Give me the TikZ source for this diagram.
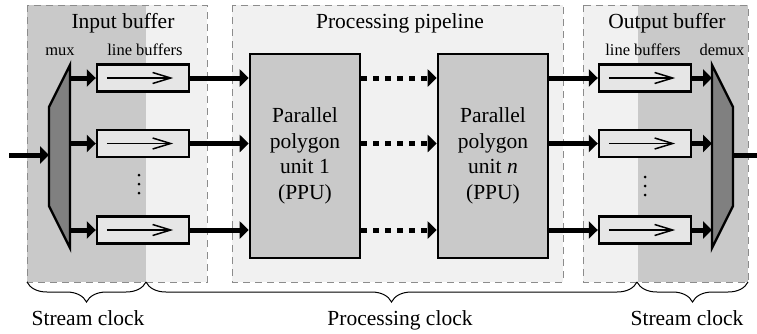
\documentclass[tikz,border=0pt]{standalone}
\usepackage{fontspec}
\setmainfont{Liberation Serif}
\newfontfamily\tnrfont{Liberation Serif}
\usetikzlibrary{arrows.meta,decorations.pathreplacing}
\definecolor{darkreg}{HTML}{C9C9C9}
\definecolor{lightreg}{HTML}{F1F1F1}
\definecolor{buffill}{HTML}{E6E6E6}
\definecolor{muxfill}{HTML}{808080}
\definecolor{dashgray}{HTML}{8C8C8C}
\tikzset{
  region/.style={draw=dashgray,line width=0.9pt,dash pattern=on 7pt off 5pt},
  bufbox/.style={draw=black,line width=2.4pt,fill=buffill,minimum width=92pt,minimum height=27pt,inner sep=0pt},
  ppubox/.style={draw=black,line width=2.6pt,fill=darkreg,minimum width=110pt,minimum height=204pt,inner sep=0pt,align=center,font=\tnrfont\fontsize{21.5}{25.5}\selectfont},
  fat/.style={line width=5pt,-{Triangle[length=9pt,width=17pt]}},
  fatdash/.style={fat,dash pattern=on 6pt off 6pt},
  inner/.style={line width=1.5pt,-{Straight Barb[length=18pt,width=11pt,line width=1.5pt]}},
  bigtxt/.style={font=\tnrfont\fontsize{21.5}{25.5}\selectfont,inner sep=0pt,anchor=base},
  smalltxt/.style={font=\tnrfont\fontsize{16.5}{19}\selectfont,inner sep=0pt,anchor=base},
  muxshape/.style={draw=black,line width=2.4pt,fill=muxfill,line join=miter},
  clockbrace/.style={decorate,decoration={brace,mirror,amplitude=20pt},line width=1pt},
}
\begin{document}
\begin{tikzpicture}[x=1pt,y=-1pt]
\useasboundingbox (0,0) rectangle (757,333);
% regions
\fill[darkreg] (27,5) rectangle (146,282);
\fill[lightreg] (146,5) rectangle (207,282);
\draw[region] (27,5) rectangle (207,282);
\fill[lightreg] (232,5) rectangle (563,282);
\draw[region] (232,5) rectangle (563,282);
\fill[lightreg] (583,5) rectangle (638,282);
\fill[darkreg] (638,5) rectangle (748,282);
\draw[region] (583,5) rectangle (748,282);
% titles
\node[bigtxt] (tin) at (123,28) {Input buffer};
\node[bigtxt] (tpp) at (400,28) {Processing pipeline};
\node[bigtxt] (tout) at (667,28) {Output buffer};
\node[smalltxt] (lmux) at (60,55) {mux};
\node[smalltxt] (llb1) at (145,55) {line buffers};
\node[smalltxt] (llb2) at (643,55) {line buffers};
\node[smalltxt] (ldemux) at (722,55) {demux};
% mux and demux
\draw[muxshape] (70,65) -- (70,248) -- (49,206) -- (49,107) -- cycle;
\draw[muxshape] (712,65) -- (712,248) -- (733,206) -- (733,107) -- cycle;
\coordinate (min) at (9,155);
\coordinate (mxl) at (49,155);
\coordinate (mx1) at (70,78);
\coordinate (mx2) at (70,143.5);
\coordinate (mx3) at (70,230);
\coordinate (dx1) at (712,78);
\coordinate (dx2) at (712,143.5);
\coordinate (dx3) at (712,230);
\coordinate (dxr) at (733,155);
\coordinate (dout) at (766,155);
% line buffers
\foreach \i/\y in {1/78,2/143.5,3/230}{
  \node[bufbox] (ib\i) at (143,\y) {};
  \node[bufbox] (ob\i) at (645,\y) {};
  \draw[inner] ([xshift=11pt]ib\i.west) -- ([xshift=-17pt]ib\i.east);
  \draw[inner] ([xshift=11pt]ob\i.west) -- ([xshift=-17pt]ob\i.east);
}
% PPUs
\node[ppubox] (p1) at (305,156) {Parallel\\polygon\\unit 1\\(PPU)};
\node[ppubox] (pn) at (493,156) {Parallel\\polygon\\unit \textit{n}\\(PPU)};
% arrows
\draw[fat] (min) -- (mxl);
\draw[fat] (dxr) -- (dout);
\foreach \i in {1,2,3}{
  \draw[fat] (mx\i) -- (ib\i.west);
  \draw[fat] (ob\i.east) -- (dx\i);
  \draw[fat] (ib\i.east) -- (ib\i.east -| p1.west);
  \draw[fat] (ob\i.west -| pn.east) -- (ob\i.west);
  \draw[fatdash] (ib\i.east -| p1.east) -- (ib\i.east -| pn.west);
}
% dots
\foreach \y in {175,184,193}{ \fill (139,\y) circle (1.5pt); }
\foreach \y in {177,186,195}{ \fill (645,\y) circle (1.5pt); }
% braces
\coordinate (b0) at (27,282);
\coordinate (b1) at (146,282);
\coordinate (b2) at (637,282);
\coordinate (b3) at (748,282);
\draw[clockbrace] (b0) -- (b1);
\draw[clockbrace] (b1) -- (b2);
\draw[clockbrace] (b2) -- (b3);
\node[bigtxt] (sc1) at (88,325) {Stream clock};
\node[bigtxt] (pc) at (400,325) {Processing clock};
\node[bigtxt] (sc2) at (687,325) {Stream clock};
\end{tikzpicture}
\end{document}
